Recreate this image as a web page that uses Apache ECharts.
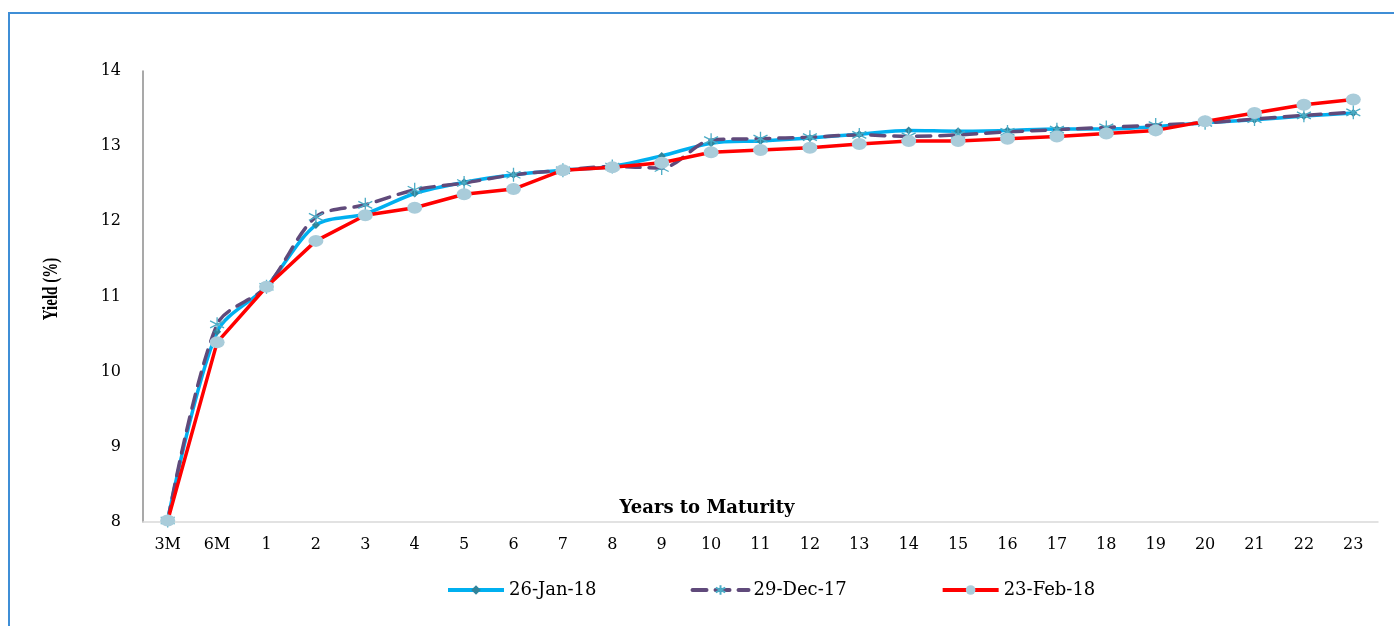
<!DOCTYPE html>
<html style="height: 100%">
<head>
    <meta charset="utf-8">
    <script src="https://cdn.jsdelivr.net/npm/echarts@6/dist/echarts.min.js"></script>
</head>
<body style="height: 100%; margin: 0; background: #fff">
    <div id="main" style="width:1394px;height:626px;"></div>
    <script type="text/javascript">
        // maturities and yields (%)
        var maturities = ['3M', '6M', '1', '2', '3', '4', '5', '6', '7', '8', '9', '10', '11', '12',
            '13', '14', '15', '16', '17', '18', '19', '20', '21', '22', '23'];
        var jan26 = [8.03, 10.53, 11.13, 11.95, 12.10, 12.37, 12.52, 12.62, 12.68, 12.73, 12.87, 13.04, 13.07,
            13.11, 13.16, 13.21, 13.20, 13.21, 13.23, 13.23, 13.26, 13.31, 13.35, 13.40, 13.44];
        var dec29 = [8.02, 10.63, 11.13, 12.06, 12.22, 12.42, 12.51, 12.62, 12.68, 12.73, 12.71, 13.08, 13.10,
            13.12, 13.15, 13.13, 13.15, 13.19, 13.22, 13.25, 13.28, 13.31, 13.36, 13.41, 13.45];
        var feb23 = [8.02, 10.39, 11.13, 11.74, 12.08, 12.18, 12.36, 12.43, 12.68, 12.72, 12.78, 12.92, 12.95,
            12.98, 13.03, 13.07, 13.07, 13.10, 13.13, 13.17, 13.21, 13.33, 13.44, 13.55, 13.62];

        // the source picture is stretched sideways, DejaVu Serif is wide enough to match
        var serif = 'DejaVu Serif';
        var star = 'path://M5,0 L5,10 M0.7,2.5 L9.3,7.5 M0.7,7.5 L9.3,2.5';

        var myChart = echarts.init(document.getElementById('main'));
        var option = {
            animation: false,
            textStyle: { fontFamily: serif, color: '#000' },
            graphic: [{
                type: 'rect',
                shape: { x: 9, y: 13, width: 1420, height: 660 },
                style: { fill: 'none', stroke: '#3F8ED6', lineWidth: 2 }
            }, {
                type: 'text',
                x: 707,
                y: 508,
                style: {
                    text: 'Years to Maturity', font: 'bold 18px "DejaVu Serif"', fill: '#000',
                    align: 'center', verticalAlign: 'middle'
                }
            }, {
                // y axis title, widened like the rest of the picture
                type: 'text',
                x: 52,
                y: 289,
                rotation: Math.PI / 2,
                scaleY: 1.35,
                style: {
                    text: 'Yield (%)', font: 'bold 15px "Liberation Serif"', fill: '#000',
                    align: 'center', verticalAlign: 'middle'
                }
            }],
            grid: { left: 143, right: 16, top: 71, bottom: 104 },
            legend: {
                bottom: 22,
                left: 441,
                itemWidth: 56,
                itemHeight: 12,
                itemGap: 94,
                lineStyle: { width: 4 },
                textStyle: { fontFamily: serif, fontSize: 18, color: '#000' },
                data: ['26-Jan-18', '29-Dec-17', '23-Feb-18']
            },
            xAxis: {
                type: 'category',
                data: maturities,
                axisLine: { lineStyle: { color: '#D9D9D9', width: 1.5 } },
                axisTick: { show: false },
                axisLabel: { fontFamily: serif, fontSize: 16, color: '#000', margin: 15 }
            },
            yAxis: {
                type: 'value',
                min: 8,
                max: 14,
                interval: 1,
                axisLine: { show: true, lineStyle: { color: '#8C8C8C', width: 1.5 } },
                axisTick: { show: false },
                splitLine: { show: false },
                axisLabel: { fontFamily: serif, fontSize: 16, color: '#000', margin: 22 }
            },
            series: [{
                name: '26-Jan-18',
                type: 'line',
                data: jan26,
                smooth: 0.3,
                symbol: 'diamond',
                symbolSize: 8,
                itemStyle: { color: '#31849B' },
                lineStyle: { color: '#00B0F0', width: 3.5 }
            }, {
                name: '29-Dec-17',
                type: 'line',
                data: dec29,
                smooth: 0.3,
                symbol: star,
                symbolSize: 14,
                itemStyle: { color: 'rgba(0,0,0,0)', borderColor: '#4BACC6', borderWidth: 1.3 },
                lineStyle: { color: '#604A7B', width: 3.5, type: [14, 9], cap: 'round' }
            }, {
                name: '23-Feb-18',
                type: 'line',
                data: feb23,
                symbol: 'circle',
                symbolSize: [15, 12],
                itemStyle: { color: '#A9CCDA' },
                lineStyle: { color: '#FF0000', width: 3.5 }
            }]
        };
        myChart.setOption(option);
    </script>
</body>
</html>
